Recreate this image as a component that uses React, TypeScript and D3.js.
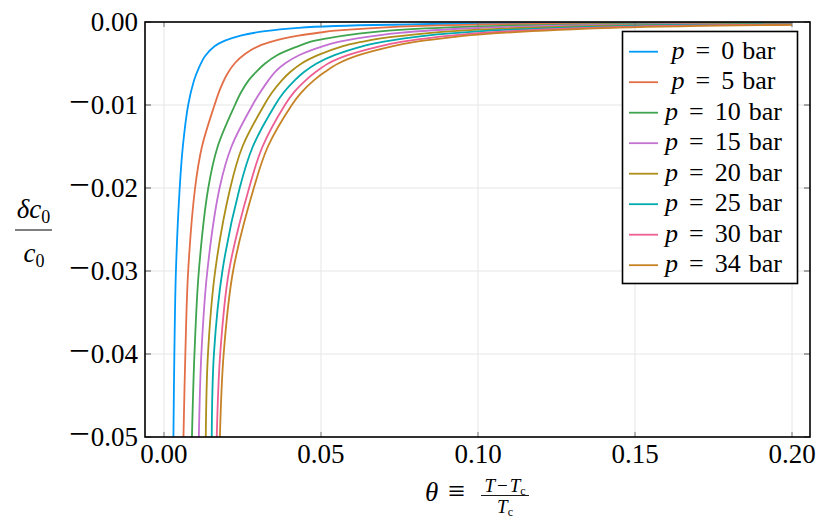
import * as d3 from 'd3'

// pressures and Julia-style default palette
const pressures = [0, 5, 10, 15, 20, 25, 30, 34]
const lineColors = ['#009AFA', '#E36F47', '#3EA44E', '#C371D2', '#AC8E18', '#00AAAE', '#ED5E93', '#C68225']

const xTicks = [0, 0.05, 0.1, 0.15, 0.2]
const yTicks = [0, -0.01, -0.02, -0.03, -0.04, -0.05]

// [theta, dc0/c0]
const curveP0 = [
  [0.003, -0.05], [0.0033, -0.04], [0.0038, -0.03], [0.005, -0.02], [0.006, -0.015], [0.0077, -0.01],
  [0.0096, -0.007], [0.0109, -0.0057], [0.0131, -0.0041], [0.0162, -0.0029], [0.0194, -0.00225],
  [0.0247, -0.0016], [0.0322, -0.0011], [0.0428, -0.0007], [0.0545, -0.00048], [0.1, -0.00018],
  [0.145, -0.0001], [0.2, -0.00006],
]
const curveP5 = [
  [0.0062, -0.05], [0.0068, -0.04], [0.0077, -0.03], [0.0099, -0.02], [0.0121, -0.015], [0.0161, -0.01],
  [0.0178, -0.00815], [0.02, -0.00635], [0.0226, -0.00494], [0.0258, -0.00386], [0.03, -0.00293],
  [0.0354, -0.00225], [0.0428, -0.00165], [0.0502, -0.00124], [0.0545, -0.00105], [0.075, -0.00055],
  [0.1, -0.0003], [0.145, -0.00014], [0.2, -0.00007],
]
const curveP10 = [
  [0.0089, -0.05], [0.0097, -0.04], [0.0111, -0.03], [0.0141, -0.02], [0.0171, -0.015], [0.0226, -0.01],
  [0.0245, -0.0085], [0.027, -0.007], [0.0294, -0.006], [0.0322, -0.005], [0.036, -0.004], [0.0428, -0.0029],
  [0.0465, -0.0024], [0.0515, -0.002], [0.062, -0.0014], [0.075, -0.00095], [0.1, -0.00052],
  [0.145, -0.00024], [0.2, -0.00012],
]
const curveP15 = [
  [0.0111, -0.05], [0.0119, -0.04], [0.0138, -0.03], [0.0177, -0.02], [0.0215, -0.015], [0.0282, -0.01],
  [0.0306, -0.0085], [0.0333, -0.007], [0.0354, -0.006], [0.0385, -0.005], [0.043, -0.004], [0.0507, -0.0029],
  [0.0555, -0.0024], [0.061, -0.002], [0.075, -0.0013], [0.1, -0.00072], [0.145, -0.00033], [0.2, -0.00017],
]
const curveP20 = [
  [0.0133, -0.05], [0.014, -0.04], [0.0163, -0.03], [0.0211, -0.02], [0.025, -0.015], [0.0319, -0.01],
  [0.0344, -0.0085], [0.0376, -0.007], [0.0403, -0.006], [0.0438, -0.005], [0.049, -0.004], [0.057, -0.0029],
  [0.0628, -0.0024], [0.0685, -0.002], [0.085, -0.0013], [0.1, -0.00092], [0.145, -0.00042], [0.2, -0.00021],
]
const curveP25 = [
  [0.0152, -0.05], [0.0159, -0.04], [0.0186, -0.03], [0.0241, -0.02], [0.0283, -0.015], [0.0354, -0.01],
  [0.0381, -0.0085], [0.0417, -0.007], [0.0447, -0.006], [0.0486, -0.005], [0.0543, -0.004], [0.0634, -0.0029],
  [0.0695, -0.0024], [0.076, -0.002], [0.087, -0.0015], [0.1, -0.00112], [0.145, -0.0005], [0.2, -0.00025],
]
const curveP30 = [
  [0.0168, -0.05], [0.0179, -0.04], [0.0207, -0.03], [0.0271, -0.02], [0.0314, -0.015], [0.0385, -0.01],
  [0.0413, -0.0085], [0.0452, -0.007], [0.0484, -0.006], [0.0523, -0.005], [0.0585, -0.004], [0.069, -0.0029],
  [0.0755, -0.0024], [0.083, -0.002], [0.1, -0.00135], [0.145, -0.0006], [0.2, -0.0003],
]
const curveP34 = [
  [0.0178, -0.05], [0.019, -0.04], [0.022, -0.03], [0.0286, -0.02], [0.0331, -0.015], [0.0407, -0.01],
  [0.0437, -0.0085], [0.0478, -0.007], [0.0513, -0.006], [0.0555, -0.005], [0.062, -0.004], [0.073, -0.0029],
  [0.08, -0.0024], [0.088, -0.002], [0.1, -0.00152], [0.145, -0.00068], [0.2, -0.00034],
]
const curves = [curveP0, curveP5, curveP10, curveP15, curveP20, curveP25, curveP30, curveP34]

const W = 830
const H = 526
const plot = { left: 145, right: 810, top: 22, bottom: 437 }
const serif = "'Liberation Serif', 'DejaVu Serif', serif"

const x = d3.scaleLinear().domain([-0.00605, 0.20573]).range([plot.left, plot.right])
const y = d3.scaleLinear().domain([-0.05, 0]).range([plot.bottom, plot.top])

const line = d3.line<number[]>()
  .x(d => x(d[0]))
  .y(d => y(d[1]))
  .curve(d3.curveCatmullRom.alpha(0.5))

export default function App() {
  const legend = { x: 622.5, y: 31.5, w: 175, h: 252, row0: 51.7, step: 30.5 }

  return (
    <svg width={W} height={H} style={{ position: 'absolute', left: 0, top: 0, background: '#fff', fontFamily: serif }}>
      <defs>
        <clipPath id="plot-clip">
          <rect x={plot.left} y={plot.top} width={plot.right - plot.left} height={plot.bottom - plot.top} />
        </clipPath>
      </defs>

      {/* grid */}
      {xTicks.map(t => (
        <line key={'gx' + t} x1={x(t)} x2={x(t)} y1={plot.top} y2={plot.bottom} stroke="#e6e6e6" strokeWidth={1} />
      ))}
      {yTicks.map(t => (
        <line key={'gy' + t} x1={plot.left} x2={plot.right} y1={y(t)} y2={y(t)} stroke="#e6e6e6" strokeWidth={1} />
      ))}

      {/* curves */}
      <g clipPath="url(#plot-clip)">
        {curves.map((c, i) => (
          <path key={i} d={line(c) ?? ''} fill="none" stroke={lineColors[i]} strokeWidth={1.8} />
        ))}
      </g>

      {/* inward ticks */}
      {xTicks.map(t => (
        <g key={'tx' + t} stroke="#777" strokeWidth={1}>
          <line x1={x(t)} x2={x(t)} y1={plot.bottom} y2={plot.bottom - 5} />
          <line x1={x(t)} x2={x(t)} y1={plot.top} y2={plot.top + 5} />
        </g>
      ))}
      {yTicks.map(t => (
        <g key={'ty' + t} stroke="#555" strokeWidth={1}>
          <line x1={plot.left} x2={plot.left + 6} y1={y(t)} y2={y(t)} />
          <line x1={plot.right} x2={plot.right - 6} y1={y(t)} y2={y(t)} />
        </g>
      ))}

      {/* frame */}
      <rect x={plot.left} y={plot.top} width={plot.right - plot.left} height={plot.bottom - plot.top}
        fill="none" stroke="#000" strokeWidth={1.6} />

      {/* tick labels */}
      {xTicks.map(t => (
        <text key={'lx' + t} x={x(t)} y={463} textAnchor="middle" fontSize={27} fill="#000">{t.toFixed(2)}</text>
      ))}
      {yTicks.map(t => (
        <text key={'ly' + t} x={138} y={y(t) + 9} textAnchor="end" fontSize={27} fill="#000">
          {t === 0
            ? '0.00'
            : <><tspan fontSize={37}>{'\u2212'}</tspan><tspan dx={1}>{Math.abs(t).toFixed(2)}</tspan></>}
        </text>
      ))}

      {/* y label: δc0 / c0 */}
      <text x={33.5} y={218} textAnchor="middle" fontSize={27}>
        <tspan fontStyle="italic">δc</tspan><tspan fontSize={18} dy={5}>0</tspan>
      </text>
      <line x1={15} x2={52} y1={230} y2={230} stroke="#000" strokeWidth={1.2} />
      <text x={34} y={262} textAnchor="middle" fontSize={27}>
        <tspan fontStyle="italic">c</tspan><tspan fontSize={18} dy={5}>0</tspan>
      </text>

      {/* x label: θ ≡ (T−Tc)/Tc */}
      <text x={425} y={501} fontSize={27}>
        <tspan fontStyle="italic">θ</tspan><tspan dx={10} fontSize={30}>≡</tspan>
      </text>
      <text x={505} y={492} textAnchor="middle" fontSize={19}>
        <tspan fontStyle="italic">T</tspan><tspan dx={2}>−</tspan><tspan dx={2} fontStyle="italic">T</tspan>
        <tspan fontSize={12} dy={3}>c</tspan>
      </text>
      <line x1={481} x2={529} y1={495.5} y2={495.5} stroke="#000" strokeWidth={0.9} />
      <text x={505} y={513} textAnchor="middle" fontSize={19}>
        <tspan fontStyle="italic">T</tspan><tspan fontSize={12} dy={3}>c</tspan>
      </text>

      {/* legend */}
      <rect x={legend.x} y={legend.y} width={legend.w} height={legend.h} fill="#fff" stroke="#000" strokeWidth={1.6} />
      {pressures.map((p, i) => {
        const ly = legend.row0 + i * legend.step
        return (
          <g key={'lg' + p}>
            <line x1={629} x2={658} y1={ly} y2={ly} stroke={lineColors[i]} strokeWidth={1.8} />
            <text x={723.5} y={ly + 7} textAnchor="middle" fontSize={26}>
              <tspan fontStyle="italic">p</tspan><tspan dx={11}>=</tspan><tspan dx={11}>{p}</tspan><tspan dx={8}>bar</tspan>
            </text>
          </g>
        )
      })}
    </svg>
  )
}
